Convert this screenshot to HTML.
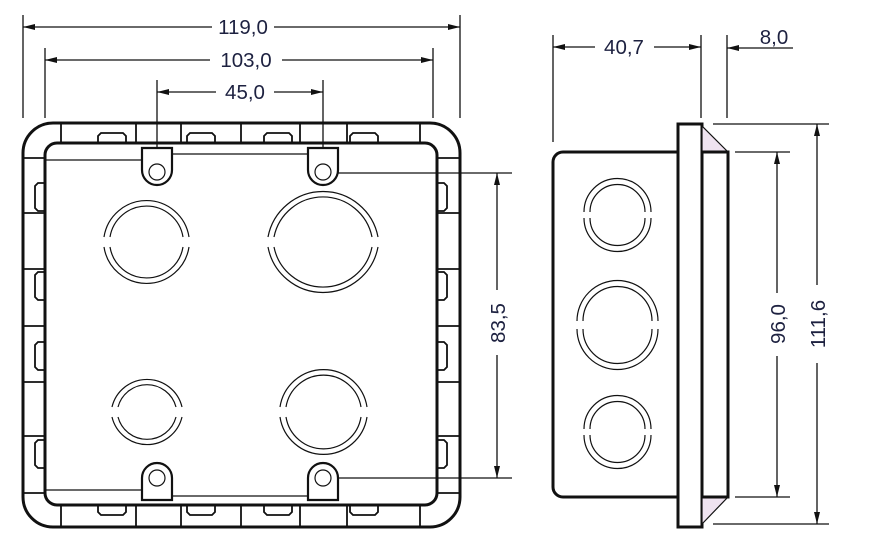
<!DOCTYPE html>
<html><head><meta charset="utf-8"><style>
html,body{margin:0;padding:0;background:#fff}
svg{display:block}
text{font-family:"Liberation Sans",sans-serif;font-size:20.5px;fill:#1d2140}
</style></head><body>
<svg width="873" height="546" viewBox="0 0 873 546" xmlns="http://www.w3.org/2000/svg">
<defs>
<marker id="a" viewBox="0 0 12 6" refX="12" refY="3" markerWidth="12" markerHeight="6" orient="auto-start-reverse" markerUnits="userSpaceOnUse"><path d="M0,0 L12,3 L0,6 Z" fill="#111"/></marker>
</defs>
<g stroke="#111" fill="none">
<rect x="23" y="123" width="437" height="404" rx="30" stroke-width="3"/>
<rect x="45" y="143" width="392" height="362" rx="12" stroke-width="3"/>
<g stroke-width="1.8">
<line x1="61" y1="123" x2="61" y2="143"/><line x1="136" y1="123" x2="136" y2="143"/><line x1="181" y1="123" x2="181" y2="143"/><line x1="241" y1="123" x2="241" y2="143"/><line x1="300" y1="123" x2="300" y2="143"/><line x1="347" y1="123" x2="347" y2="143"/><line x1="420" y1="123" x2="420" y2="143"/>
<line x1="61" y1="505" x2="61" y2="527"/><line x1="136" y1="505" x2="136" y2="527"/><line x1="181" y1="505" x2="181" y2="527"/><line x1="241" y1="505" x2="241" y2="527"/><line x1="300" y1="505" x2="300" y2="527"/><line x1="347" y1="505" x2="347" y2="527"/><line x1="420" y1="505" x2="420" y2="527"/>
<line x1="23" y1="158" x2="45" y2="158"/><line x1="23" y1="213" x2="45" y2="213"/><line x1="23" y1="269" x2="45" y2="269"/><line x1="23" y1="326" x2="45" y2="326"/><line x1="23" y1="382" x2="45" y2="382"/><line x1="23" y1="436" x2="45" y2="436"/><line x1="23" y1="493" x2="45" y2="493"/>
<line x1="437" y1="158" x2="460" y2="158"/><line x1="437" y1="213" x2="460" y2="213"/><line x1="437" y1="269" x2="460" y2="269"/><line x1="437" y1="326" x2="460" y2="326"/><line x1="437" y1="382" x2="460" y2="382"/><line x1="437" y1="436" x2="460" y2="436"/><line x1="437" y1="493" x2="460" y2="493"/>
<path d="M98,143 v-7 l3,-3 h22 l3,3 v7"/><path d="M187,143 v-7 l3,-3 h22 l3,3 v7"/><path d="M264,143 v-7 l3,-3 h22 l3,3 v7"/><path d="M350,143 v-7 l3,-3 h22 l3,3 v7"/>
<path d="M98,505 v7 l3,3 h22 l3,-3 v-7"/><path d="M187,505 v7 l3,3 h22 l3,-3 v-7"/><path d="M264,505 v7 l3,3 h22 l3,-3 v-7"/><path d="M350,505 v7 l3,3 h22 l3,-3 v-7"/>
<path d="M45,183 h-7 l-3,3 v22 l3,3 h7"/><path d="M45,272 h-7 l-3,3 v22 l3,3 h7"/><path d="M45,342 h-7 l-3,3 v22 l3,3 h7"/><path d="M45,440 h-7 l-3,3 v22 l3,3 h7"/>
<path d="M437,183 h7 l3,3 v22 l-3,3 h-7"/><path d="M437,272 h7 l3,3 v22 l-3,3 h-7"/><path d="M437,342 h7 l3,3 v22 l-3,3 h-7"/><path d="M437,440 h7 l3,3 v22 l-3,3 h-7"/>
</g>
<g stroke-width="1.3">
<line x1="45" y1="160" x2="142" y2="160"/><line x1="171" y1="154" x2="308" y2="154"/><line x1="337" y1="173" x2="512" y2="173"/>
<line x1="45" y1="490" x2="142" y2="490"/><line x1="171" y1="496" x2="308" y2="496"/><line x1="337" y1="478" x2="512" y2="478"/>
</g>
<g stroke-width="2.2" fill="#fff">
<path d="M142,148 v22 a15,15 0 0 0 30,0 v-22 z"/><path d="M308,148 v22 a15,15 0 0 0 30,0 v-22 z"/>
<path d="M142,500 v-22 a15,15 0 0 1 30,0 v22 z"/><path d="M308,500 v-22 a15,15 0 0 1 30,0 v22 z"/>
</g>
<g stroke-width="1.2">
<circle cx="157" cy="172" r="8"/><circle cx="323" cy="172" r="8"/><circle cx="157" cy="478" r="8"/><circle cx="323" cy="478" r="8"/>
</g>
<g stroke-width="1.2">
<path d="M104,237 A43,43 0 0 1 189,237 M104,247 A43,43 0 0 0 189,247"/>
<path d="M110,237 A37,37 0 0 1 183,237 M110,247 A37,37 0 0 0 183,247"/>
<path d="M268,237 A56,56 0 0 1 378,237 M268,247 A56,56 0 0 0 378,247"/>
<path d="M274,237 A50,50 0 0 1 372,237 M274,247 A50,50 0 0 0 372,247"/>
<path d="M112,407 A36,36 0 0 1 182,407 M112,417 A36,36 0 0 0 182,417"/>
<path d="M118,407 A30,30 0 0 1 176,407 M118,417 A30,30 0 0 0 176,417"/>
<path d="M280,407 A44,44 0 0 1 367,407 M280,417 A44,44 0 0 0 367,417"/>
<path d="M286,407 A38,38 0 0 1 361,407 M286,417 A38,38 0 0 0 361,417"/>
</g>
<path d="M678,152 H563 a10,10 0 0 0 -10,10 V487 a10,10 0 0 0 10,10 H678" stroke-width="3"/>
<rect x="678" y="124" width="24" height="403" stroke-width="3"/>
<path d="M702,126 L728,152 H702 Z" fill="#efe3f0" stroke-width="1.2"/>
<path d="M702,524 L728,497 H702 Z" fill="#efe3f0" stroke-width="1.2"/>
<path d="M702,152 H728 V497 H702" stroke-width="3"/>
<g stroke-width="1.2">
<path d="M584,212 A33,33 0 0 1 651,212 M584,218 A33,33 0 0 0 651,218"/>
<path d="M590,212 A27,27 0 0 1 645,212 M590,218 A27,27 0 0 0 645,218"/>
<path d="M577,321 A40,40 0 0 1 658,321 M577,329 A40,40 0 0 0 658,329"/>
<path d="M583,321 A34,34 0 0 1 652,321 M583,329 A34,34 0 0 0 652,329"/>
<path d="M584,429 A33,33 0 0 1 651,429 M584,435 A33,33 0 0 0 651,435"/>
<path d="M590,429 A27,27 0 0 1 645,429 M590,435 A27,27 0 0 0 645,435"/>
</g>
<g stroke-width="1.3">
<line x1="23" y1="15" x2="23" y2="118"/><line x1="460" y1="15" x2="460" y2="118"/>
<line x1="45" y1="48" x2="45" y2="118"/><line x1="433" y1="48" x2="433" y2="118"/>
<line x1="157" y1="80" x2="157" y2="148"/><line x1="323" y1="80" x2="323" y2="148"/>
<line x1="23" y1="27" x2="212" y2="27" marker-start="url(#a)"/><line x1="274" y1="27" x2="460" y2="27" marker-end="url(#a)"/>
<line x1="45" y1="60" x2="210" y2="60" marker-start="url(#a)"/><line x1="282" y1="60" x2="433" y2="60" marker-end="url(#a)"/>
<line x1="157" y1="92" x2="216" y2="92" marker-start="url(#a)"/><line x1="274" y1="92" x2="323" y2="92" marker-end="url(#a)"/>
<line x1="497" y1="173" x2="497" y2="290" marker-start="url(#a)"/><line x1="497" y1="355" x2="497" y2="478" marker-end="url(#a)"/>
<line x1="553" y1="35" x2="553" y2="142"/><line x1="701" y1="35" x2="701" y2="118"/><line x1="727" y1="35" x2="727" y2="118"/>
<line x1="553" y1="47" x2="595" y2="47" marker-start="url(#a)"/><line x1="654" y1="47" x2="701" y2="47" marker-end="url(#a)"/>
<line x1="793" y1="48" x2="727" y2="48" marker-end="url(#a)"/>
<line x1="713" y1="124" x2="829" y2="124"/><line x1="735" y1="152" x2="790" y2="152"/>
<line x1="735" y1="497" x2="790" y2="497"/><line x1="713" y1="524" x2="829" y2="524"/>
<line x1="777" y1="152" x2="777" y2="293" marker-start="url(#a)"/><line x1="777" y1="356" x2="777" y2="497" marker-end="url(#a)"/>
<line x1="817" y1="124" x2="817" y2="285" marker-start="url(#a)"/><line x1="817" y1="363" x2="817" y2="524" marker-end="url(#a)"/>
</g>
</g>
<text x="243" y="34" text-anchor="middle">119,0</text>
<text x="246" y="67" text-anchor="middle">103,0</text>
<text x="245" y="99" text-anchor="middle">45,0</text>
<text x="624" y="54" text-anchor="middle">40,7</text>
<text x="774" y="44" text-anchor="middle">8,0</text>
<text transform="translate(505,323) rotate(-90)" text-anchor="middle">83,5</text>
<text transform="translate(785,324) rotate(-90)" text-anchor="middle">96,0</text>
<text transform="translate(825,324) rotate(-90)" text-anchor="middle">111,6</text>
</svg>
</body></html>
